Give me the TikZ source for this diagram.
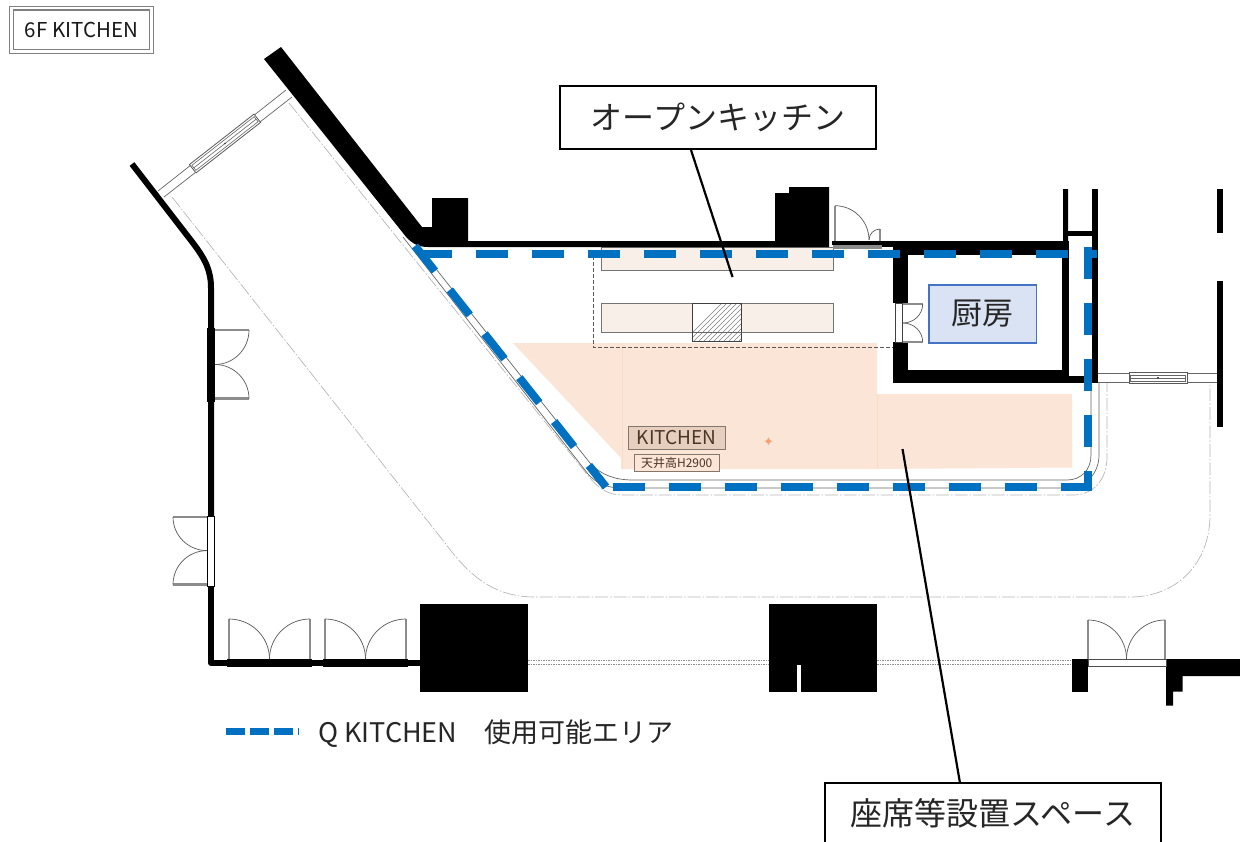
\documentclass[tikz,border=0pt]{standalone}
\usepackage{fontspec}
\setmainfont{Noto Sans CJK JP}
\newfontfamily\symfont{DejaVu Sans}
\definecolor{qblue}{HTML}{0070C0}
\definecolor{areaor}{HTML}{FBE5D6}
\definecolor{arealn}{HTML}{F8DCC6}
\definecolor{counter}{HTML}{F7EFE8}
\definecolor{roomf}{HTML}{DAE3F3}
\definecolor{roome}{HTML}{4472C4}
\definecolor{kitf}{HTML}{E6CFBF}
\definecolor{kite}{HTML}{85756B}
\definecolor{kitt}{HTML}{4A3526}
\definecolor{leafg}{HTML}{8C8C8C}
\definecolor{starc}{HTML}{F4A070}
\tikzset{
  wallfill/.style={fill=black,draw=none},
  wallline/.style={draw=black,line width=6pt,line join=round},
  doorarc/.style={draw=black!65,line width=.7pt},
  leafline/.style={draw=leafg,line width=2.6pt},
  thinline/.style={draw=black!60,line width=.7pt},
  outline/.style={draw=black!28,line width=.7pt,dash pattern=on 13pt off 2pt on 1.5pt off 2pt},
  bluedash/.style={draw=qblue,line width=8pt,dash pattern=on 32pt off 24pt},
  leader/.style={draw=black,line width=2.2pt},
  callout/.style={draw=black,line width=1.8pt,fill=white,text=black!85,font=\fontsize{32}{32}\selectfont,inner sep=0pt,anchor=center},
  countertop/.style={fill=counter,draw=black!55,line width=.8pt},
}
\newcommand\arcvh[4]{\draw[doorarc] (#1,#2) .. controls (#1,{#2+0.5523*(#4-#2)}) and ({#3-0.5523*(#3-#1)},#4) .. (#3,#4);}
\newcommand\archv[4]{\draw[doorarc] (#1,#2) .. controls ({#1+0.5523*(#3-#1)},#2) and (#3,{#4-0.5523*(#4-#2)}) .. (#3,#4);}
\newcommand\windetail[1]{%
  \draw[fill=white,draw=black!65,line width=.8pt] (-#1,-5.3) rectangle (#1,5.3);
  \draw[draw=black!60,line width=.6pt] (-#1+1.5,-3.2) rectangle (#1-1.5,3.2) (-#1+1.5,0) -- (#1-1.5,0);
  \fill[black!70] (-.7,-.7) rectangle (.7,.7);
}
\begin{document}
\begin{tikzpicture}[x=1pt,y=-1pt]
\useasboundingbox (0,0) rectangle (1240,841);
\fill[white] (0,0) rectangle (1240,841);

% seating area
\fill[areaor] (513,343) -- (877,343) -- (877,394) -- (1072,394) -- (1072,467.5) -- (877,469) -- (621,469) -- (621,458) -- cycle;
\draw[arealn,line width=.7pt] (622,343) -- (622,469) (877,394) -- (877,469);

% counters
\draw[countertop] (601,247) rectangle (833.6,270.3);
\draw[countertop] (601,303) rectangle (833.6,332.6);
\begin{scope}
  \clip (692.7,303) rectangle (741.7,341.7);
  \fill[white] (692.7,303) rectangle (741.7,341.7);
  \foreach \k in {0,5,...,100} { \draw[black!50,line width=.5pt] (680+\k,345) -- (725+\k,300); }
\end{scope}
\draw[black!75,line width=.7pt] (692.7,303) rectangle (741.7,341.7);
\draw[black!60,line width=.7pt] (692.7,332.6) -- (741.7,332.6);
\draw[black!65,line width=.7pt,dash pattern=on 3.5pt off 2.5pt] (593.7,250) -- (593.7,347.5) -- (893,347.5);

% outline dash-dot
\draw[outline] (289,103) -- (590,478) .. controls (598,488) and (608,495) .. (622,495) -- (1073,495) .. controls (1093,495) and (1107,480) .. (1107,457) -- (1107,383);
\draw[outline] (172,197) -- (445,543) .. controls (470,577) and (495,597) .. (535,597) -- (1130,597) .. controls (1178,597) and (1210,562) .. (1210,515) -- (1210,383);

% corridor double line
\draw[thinline] (421,250) -- (590,463) .. controls (601,475) and (615,480) .. (633,480) -- (1067,480) .. controls (1081,480) and (1091,470) .. (1091,455) -- (1091,383);
\draw[thinline] (403,237) -- (588,474) .. controls (597,484) and (607,488) .. (623,488) -- (1067,488) .. controls (1085,488) and (1099,474) .. (1099,455) -- (1099,383);

% walls
\fill[black] (264,59) -- (281,47) -- (422,227) -- (432,227) -- (432,198) -- (468,198) -- (468,241) -- (775,241) -- (775,193) -- (789,193) -- (789,187) -- (829,187) -- (829,247) -- (428,247) .. controls (418,247) and (410,243) .. (403,233) -- cycle;
\draw[wallline] (132,164) -- (193,243) .. controls (205,259) and (211,270) .. (211,288) -- (211,516);
\draw[wallline] (211,586) -- (211,663) -- (420,663);
\fill[black] (207,328) rectangle (215,401.5);
\fill[black] (227,658.7) rectangle (312,667.3);
\fill[black] (323,658.7) rectangle (408,667.3);
\fill[black] (420,604) rectangle (528,692);
\fill[black] (768.5,604) rectangle (877,692);
\fill[white] (797.4,665) rectangle (800.6,692);
\fill[black] (1072,659) rectangle (1088,691.5);
\fill[black] (1166,659) -- (1240,659) -- (1240,676) -- (1182.5,676) -- (1182.5,691.5) -- (1173,691.5) -- (1173,705.7) -- (1166,705.7) -- cycle;
% dotted threshold
\foreach \yy in {660.7,664.8} {
  \draw[black!45,line width=.8pt,dash pattern=on 1.5pt off 1pt] (528,\yy) -- (768.5,\yy);
  \draw[black!45,line width=.8pt,dash pattern=on 1.5pt off 1pt] (877,\yy) -- (1072,\yy);
}
% kitchen room
\fill[black] (882,241) -- (1068,241) -- (1068,189) -- (1063,189) -- (1063,241) -- cycle;
\fill[black] (893,241) rectangle (1063,255);
\fill[black] (893,241) rectangle (908,303);
\fill[black] (893,342) rectangle (908,383);
\fill[black] (893,370) rectangle (1069,383);
\fill[black] (1069,376) rectangle (1092,383);
\fill[black] (1062,241) rectangle (1069,376);
\fill[black] (1068,231) rectangle (1092,236);
\fill[black] (1092,189) rectangle (1098,383);
\fill[black] (1217,189) rectangle (1223,233);
\fill[black] (1217,281) rectangle (1223,427);

% right window
\draw[thinline] (1098,373) -- (1217,373) (1098,382.5) -- (1217,382.5);
\begin{scope}[shift={(1158,378)}] \windetail{29} \end{scope}
% upper-left window
\draw[thinline] (158,191) -- (286,90) (164,197) -- (292,97);
\begin{scope}[shift={(225,143.5)},rotate=38] \windetail{41} \end{scope}

% doors
\draw[leafline] (215,330) -- (249,330) (215,398.6) -- (249,398.6);
\arcvh{249}{330}{215}{364.5} \archv{215}{364.5}{249}{398.6}
\draw[leafline] (173,517) -- (207,517) (173,584.6) -- (207,584.6);
\arcvh{173}{517}{207}{550.6} \archv{207}{550.6}{173}{584.6}
\draw[fill=white,draw=black,line width=.8pt] (207.5,516) rectangle (214.5,586);
\draw[leafline] (229,619) -- (229,659) (310,619) -- (310,659) (325,619) -- (325,659) (406,619) -- (406,659);
\archv{229}{619}{269.5}{659} \arcvh{269.5}{659}{310}{619}
\archv{325}{619}{365.5}{659} \arcvh{365.5}{659}{406}{619}
\draw[leafline] (1088,620) -- (1088,659) (1165,620) -- (1165,659);
\archv{1088}{620}{1126.5}{659} \arcvh{1126.5}{659}{1165}{620}
\draw[black!70,fill=white,line width=.8pt] (1088,659) rectangle (1166,666.5);
% top door
\fill[leafg] (833,241) rectangle (882,249);
\fill[black] (832,241) rectangle (882,245);
\fill[black] (882,241) rectangle (895,247);
\draw[leafline] (835,205.7) -- (835,241);
\draw[leafg,line width=1.2pt] (880,229) -- (880,241);
\archv{835}{205.7}{869}{240} \arcvh{869}{240}{880}{229}
% kitchen door
\draw[fill=white,draw=black!75,line width=.8pt] (895.5,303) rectangle (902.8,342);
\draw[leafline,line width=1.6pt] (903,304) -- (922.7,304) (903,342) -- (922.7,342);
\arcvh{922.7}{304}{903}{323} \archv{903}{323}{922.7}{342}

% blue usable-area line
\draw[bluedash] (420.3,254) -- (1097,254);
\draw[bluedash] (415,246) -- (606,487);
\draw[bluedash] (613,486.7) -- (1092,486.7);
\draw[bluedash] (1088,246.7) -- (1088,491);

% leaders
\coordinate (openend) at (732.5,277);
\coordinate (seatend) at (902.5,449);
\node[callout,minimum width=316pt,minimum height=63pt] (openbox) at (718,117.5) {\raisebox{1.5pt}{オープンキッチン}};
\node[draw=none,inner sep=0pt] (openfoot) at (691,150) {};
\draw[leader] (openfoot.center) -- (openend);
\node[callout,minimum width=336pt,minimum height=90pt] (seatbox) at (993,828) {};
\node[font=\fontsize{32}{32}\selectfont,text=black!85] (seattext) at (993,813) {座席等設置スペース};
\node[draw=none,inner sep=0pt] (seatfoot) at (960,783) {};
\draw[leader] (seatend) -- (seatfoot.center);

% labels
\node[draw=roome,fill=roomf,line width=1.5pt,minimum width=107.5pt,minimum height=58pt,inner sep=0pt,text=black!85,font=\fontsize{31}{31}\selectfont] (kitchenroom) at (982.7,314) {厨房};
\node[draw=kite,fill=kitf,line width=.9pt,minimum width=97pt,minimum height=23.5pt,inner sep=0pt,text=kitt,font=\fontsize{19}{19}\selectfont] (kitlabel) at (676.7,438) {KITCHEN};
\node[draw=kite,fill=areaor,line width=.9pt,minimum width=85pt,minimum height=17pt,inner sep=0pt,text=kitt,font=\fontsize{12}{12}\selectfont] (kitheight) at (676.7,462.8) {天井高H2900};
\node[text=starc,font=\symfont\fontsize{13}{13}\selectfont,inner sep=0pt] (kitmark) at (768.6,441.5) {✦};
\draw[double=white,double distance=2.8pt,draw=black!50,line width=1.1pt] (11.3,8) rectangle (151.3,51.3);
\node[font=\fontsize{20.5}{20.5}\selectfont,text=black!90,inner sep=0pt] (title) at (81.5,30) {6F KITCHEN};

% legend
\coordinate (lega) at (225.5,731.6);
\coordinate (legb) at (299,731.6);
\draw[draw=qblue,line width=6.5pt,dash pattern=on 19pt off 5.3pt] (lega) -- (legb);
\node[anchor=west,font=\fontsize{27}{27}\selectfont,text=black!85,inner sep=0pt] (legtext) at (318,734) {Q KITCHEN　使用可能エリア};
\end{tikzpicture}
\end{document}
